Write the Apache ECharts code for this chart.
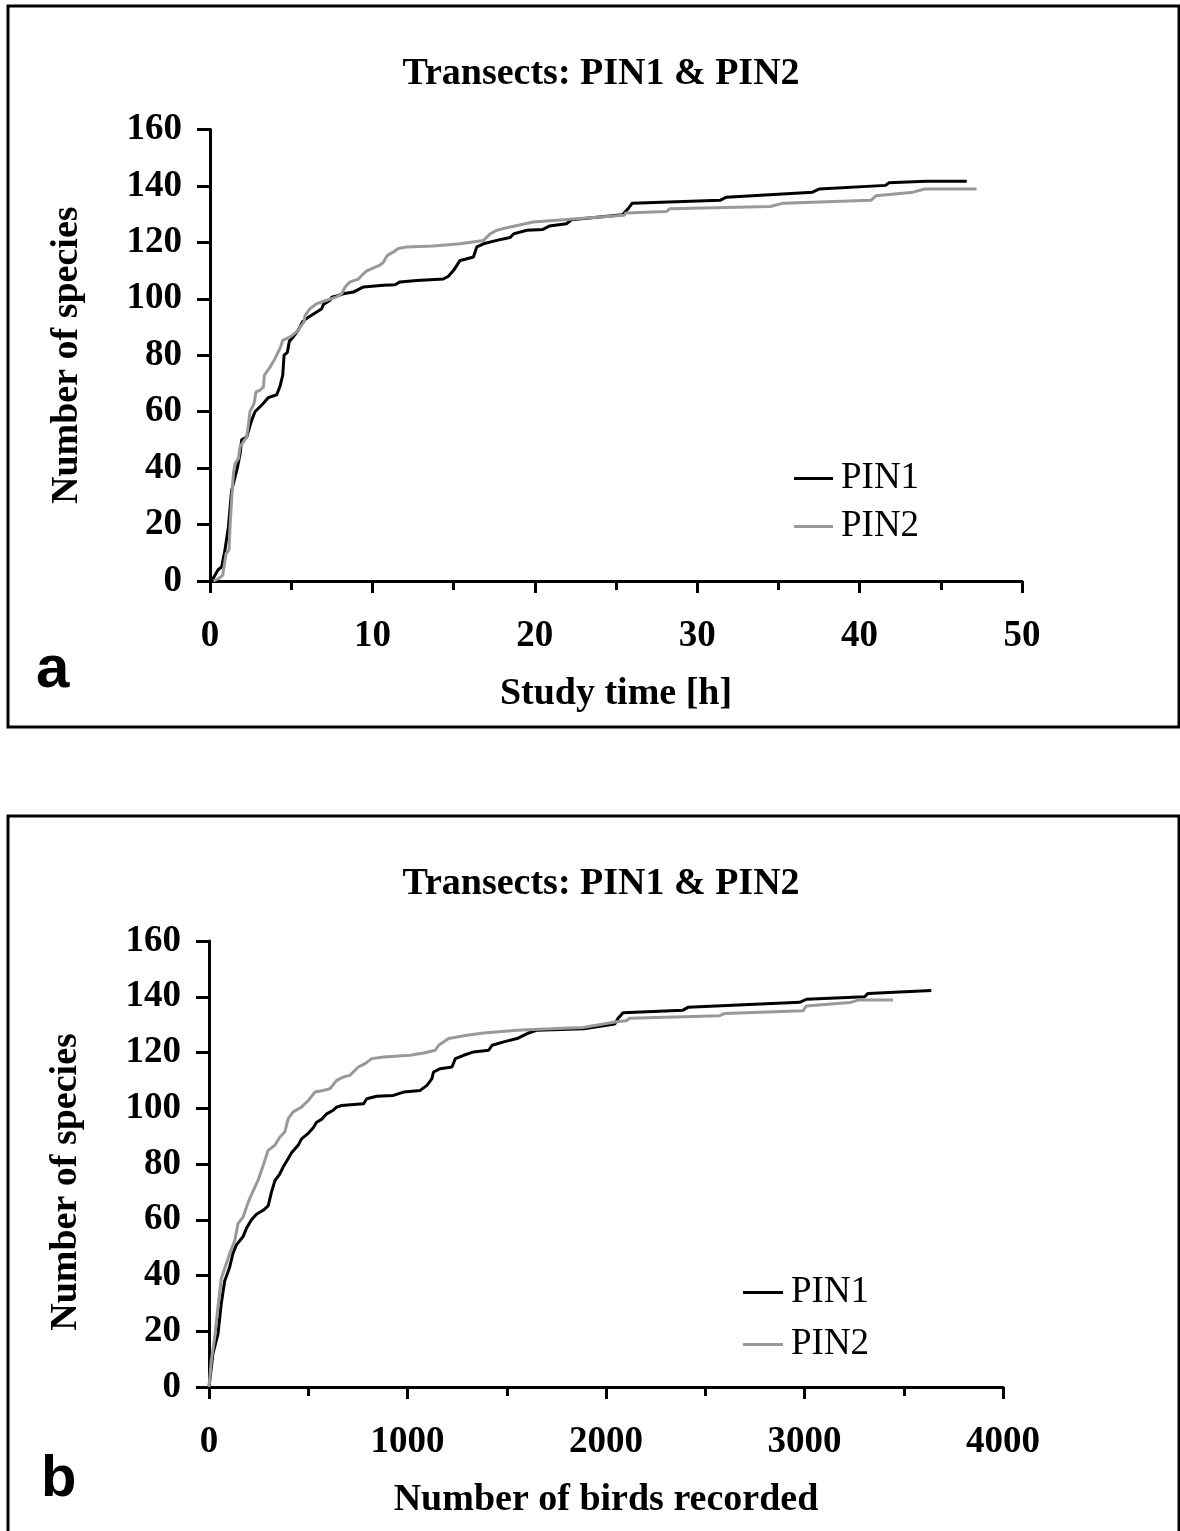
<!DOCTYPE html>
<html>
<head>
<meta charset="utf-8">
<script src="https://cdn.jsdelivr.net/npm/echarts@6/dist/echarts.min.js"></script>
<style>
html,body{margin:0;padding:0;background:#fff;}
#c{width:1180px;height:1531px;}
</style>
</head>
<body>
<div id="c"></div>
<script>
// Panel a: study time [h] vs number of species
var timePIN1 = [0.1,0.5,0.72,0.92,1.13,1.33,1.68,1.85,1.95,2.26,2.46,2.57,2.77,3.29,3.59,4.11,4.31,4.48,4.56,4.76,4.89,5.13,5.44,5.71,6.06,6.47,6.88,6.98,7.39,7.49,7.8,8.21,8.83,9.24,9.45,10.68,11.4,11.7,12.73,14.37,14.68,14.99,15.4,15.71,16.22,16.43,16.84,17.66,18.48,18.69,19.51,20.5,20.9,21.95,22.26,25.4,25.74,26.0,31.4,31.8,37.1,37.5,41.6,41.8,44.1,46.6];
var speciesTimePIN1 = [0,4,5,11,19,32,40,45,50,51,55,57,60,63,65,66,69,73,80,81,85,86.5,89,92,93.5,95,96.5,98,99.5,100.6,101,101.8,102.4,103.6,104.2,104.8,105,106,106.5,107,108,110,113.6,114,114.8,118.4,119.5,120.7,121.7,123,124.3,124.6,125.8,126.6,128,129.8,131.9,133.9,134.9,136,137.8,138.9,140.2,141.1,141.7,141.7];
var timePIN2 = [0.21,0.51,0.78,0.86,0.99,1.17,1.23,1.33,1.44,1.54,1.75,1.85,2.05,2.26,2.40,2.46,2.71,2.83,3.08,3.29,3.35,3.70,4.0,4.35,4.48,4.93,5.34,5.79,5.85,6.16,6.57,7.19,7.80,8.11,8.32,8.62,9.14,9.34,9.65,9.96,10.47,10.68,10.92,11.29,11.6,12.11,13.76,15.4,16.84,17.25,17.66,18.0,19.9,22.6,25.5,25.6,28.1,28.3,34.5,35.3,40.7,41.0,43.3,44.0,47.2];
var speciesTimePIN2 = [0,0.8,2,5,9.7,11,19,28.6,38,41.6,43.4,47.5,49.3,51,57,60,62.8,67,67.6,68.8,73,75.8,78.8,83,85.3,86.5,88.3,91.8,94,96.5,98.3,99.5,100.7,101.8,104.2,106,107,108.3,109.9,110.7,111.9,113,115.4,116.6,117.8,118.4,118.7,119.5,120.7,123,124.3,124.8,127.2,128.4,129.6,130.4,130.9,131.9,132.7,133.9,134.9,136.5,137.8,138.9,138.9];

// Panel b: number of birds recorded vs number of species
var birdsPIN1 = [0,20,45,62,79,104,121,138,172,189,214,239,273,298,315,332,357,374,391,416,449,466,500,525,542,567,593,626,643,668,778,795,845,929,980,1064,1098,1123,1131,1165,1224,1241,1283,1333,1409,1426,1485,1552,1603,1653,1889,2044,2061,2086,2388,2413,2976,3010,3303,3320,3639];
var speciesBirdsPIN1 = [0,12,19,30,38,43,48,51,54,57,60,62,63.4,65,70,74,76.5,79,81,84,86.7,89,91,93,95,96,98,99.3,100.4,101,101.6,103.4,104.3,104.6,105.8,106.4,108.2,110.6,113,114.2,114.8,117.8,119,120.2,120.8,122.6,123.8,125,126.8,128,128.5,130.2,132.3,134.3,135.2,136.2,138,139.1,140,141.2,142.2];
var birdsPIN2 = [0,12,29,45,62,79,104,130,146,172,189,205,231,247,273,298,332,357,382,399,424,466,500,534,576,609,643,677,710,752,786,820,879,1013,1081,1140,1157,1207,1300,1384,1552,1721,1884,2052,2103,2119,2573,2598,2993,3010,3228,3270,3446];
var speciesBirdsPIN2 = [0,9.6,18,28.7,38.9,42.5,47.8,52.6,58.6,61,64.6,67.6,71.7,74.1,79.5,84.9,86.7,89.7,91.5,96.3,98.7,100.4,102.8,105.8,106.4,107,110,111.2,111.8,114.8,116,117.8,118.4,119,119.8,120.8,122.6,125,126.2,127,128,128.5,129,131,131.4,132.3,133.2,134,135,136.7,137.9,138.8,138.8];

// Tick labels
var yTicks = [0,20,40,60,80,100,120,140,160];
var xTicksA = [0,10,20,30,40,50];
var xTicksB = [0,1000,2000,3000,4000];

var seriesNames = ['PIN1','PIN2'];
var seriesColors = ['#000000','#999999'];

function zip(xs, ys){ return xs.map(function(x,i){ return [x, ys[i]]; }); }

var SERIF = '"Liberation Serif","Times New Roman",serif';
var labelStyle = {fontFamily: SERIF, fontWeight: 'bold', fontSize: 37, color: '#000'};
var axisLine = {show: true, lineStyle: {color: '#000', width: 3}};
var nameStyle = {fontFamily: SERIF, fontWeight: 'bold', fontSize: 38, color: '#000'};

function xAxis(idx, ticks, name){
  var step = ticks[1]-ticks[0];
  return {
    type: 'value', gridIndex: idx, min: ticks[0], max: ticks[ticks.length-1], interval: step,
    axisLine: axisLine,
    axisTick: {show: true, inside: false, length: 12, lineStyle: {color: '#000', width: 3}},
    minorTick: {show: true, splitNumber: 2, length: 9, lineStyle: {color: '#000', width: 3}},
    splitLine: {show: false},
    axisLabel: Object.assign({margin: 37, formatter: function(v){ return String(v); }}, labelStyle),
    name: name, nameLocation: 'middle', nameGap: 94,
    nameTextStyle: nameStyle
  };
}
function yAxis(idx, pad){
  return {
    type: 'value', gridIndex: idx, min: yTicks[0], max: yTicks[yTicks.length-1], interval: yTicks[1]-yTicks[0],
    axisLine: axisLine,
    axisTick: {show: true, inside: false, length: 13, lineStyle: {color: '#000', width: 3}},
    splitLine: {show: false},
    axisLabel: Object.assign({margin: 28, formatter: function(v){ return String(v); }}, labelStyle),
    name: 'Number of species', nameLocation: 'middle', nameGap: 124,
    nameTextStyle: Object.assign({padding: pad}, nameStyle)
  };
}
function lineSeries(name, color, data, xi, yi){
  return {
    name: name, type: 'line', xAxisIndex: xi, yAxisIndex: yi, data: data,
    showSymbol: false, symbol: 'none', smooth: false, animation: false,
    lineStyle: {color: color, width: 3}, itemStyle: {color: color}
  };
}
var titleStyle = {fontFamily: SERIF, fontWeight: 'bold', fontSize: 38, color: '#000'};
var legendText = {fontFamily: SERIF, fontWeight: 'normal', fontSize: 37, color: '#000', padding: [0,0,0,3]};

var chart = echarts.init(document.getElementById('c'), null, {renderer: 'canvas'});
chart.setOption({
  animation: false,
  backgroundColor: '#fff',
  title: [
    {text: 'Transects: PIN1 & PIN2', left: 596, top: 50, textAlign: 'center', textStyle: titleStyle},
    {text: 'Transects: PIN1 & PIN2', left: 596, top: 860, textAlign: 'center', textStyle: titleStyle}
  ],
  legend: [
    {data: seriesNames, orient: 'vertical', left: 789, top: 455, itemWidth: 39, itemHeight: 3, itemGap: 11,
     icon: 'rect', textStyle: legendText, selectedMode: false},
    {data: seriesNames, orient: 'vertical', left: 738, top: 1269, itemWidth: 40, itemHeight: 3, itemGap: 15,
     icon: 'rect', textStyle: legendText, selectedMode: false}
  ],
  grid: [
    {left: 210, top: 129.5, width: 812, height: 451.5},
    {left: 209, top: 941, width: 794, height: 446}
  ],
  xAxis: [xAxis(0, xTicksA, 'Study time [h]'), xAxis(1, xTicksB, 'Number of birds recorded')],
  yAxis: [yAxis(0, [0,0,0,0]), yAxis(1, [0,36,0,0])],
  series: [
    lineSeries(seriesNames[0], seriesColors[0], zip(timePIN1, speciesTimePIN1), 0, 0),
    lineSeries(seriesNames[1], seriesColors[1], zip(timePIN2, speciesTimePIN2), 0, 0),
    lineSeries(seriesNames[0], seriesColors[0], zip(birdsPIN1, speciesBirdsPIN1), 1, 1),
    lineSeries(seriesNames[1], seriesColors[1], zip(birdsPIN2, speciesBirdsPIN2), 1, 1)
  ],
  graphic: [
    {type: 'rect', shape: {x: 8, y: 6, width: 1171, height: 721}, style: {fill: 'none', stroke: '#000', lineWidth: 3}, silent: true},
    {type: 'rect', shape: {x: 8, y: 816, width: 1171, height: 740}, style: {fill: 'none', stroke: '#000', lineWidth: 3}, silent: true},
    {type: 'text', left: 36, top: 640, style: {text: 'a', font: 'bold 60px "Liberation Sans", Arial, sans-serif', fill: '#000'}},
    {type: 'text', left: 41, top: 1451, style: {text: 'b', font: 'bold 58px "Liberation Sans", Arial, sans-serif', fill: '#000'}}
  ]
});
</script>
</body>
</html>
